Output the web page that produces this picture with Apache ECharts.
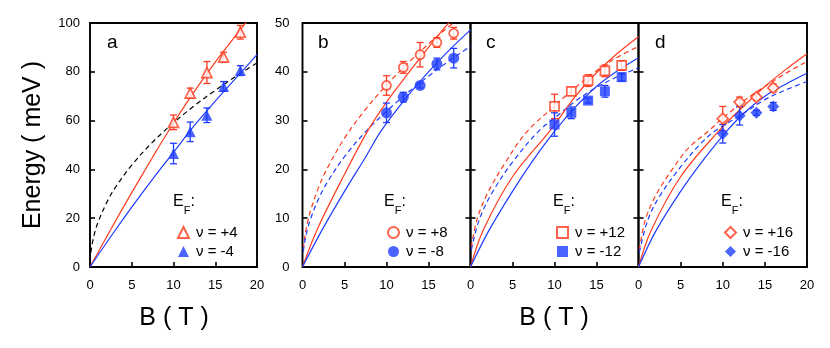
<!DOCTYPE html>
<html>
<head>
<meta charset="utf-8">
<script src="https://cdn.jsdelivr.net/npm/echarts@6/dist/echarts.min.js"></script>
<style>
  html, body { margin: 0; padding: 0; background: #fff; }
  #main { width: 830px; height: 348px; }
</style>
</head>
<body>
<div id="main"></div>
<script>
// field values (T) where points were measured
var bPts = [10, 12, 14, 16, 18];
var bPtsD = [10, 12, 14, 16];

// panel a : nu = +4 / -4
var aPlus = [59.3, 71.3, 79.7, 86, 96.2];
var aPlusErr = [3, 2, 4.5, 2, 2.8];
var aMinus = [46.5, 55.4, 62.2, 74, 80.5];
var aMinusErr = [4.2, 4, 3, 2, 2];
// panel b : nu = +8 / -8
var bPlus = [37.2, 40.9, 43.5, 46, 47.9];
var bPlusErr = [2, 1.2, 2.5, 1, 1.2];
var bMinus = [31.6, 34.8, 37.2, 41.6, 42.8];
var bMinusErr = [2, 1, 0.5, 1.2, 2];
// panel c : nu = +12 / -12
var cPlus = [32.9, 36, 38.2, 40.2, 41.3];
var cPlusErr = [2.5, 0.8, 1.2, 1.2, 1];
var cMinus = [29.2, 31.6, 34.1, 36, 38.9];
var cMinusErr = [2.4, 1.2, 0.5, 1.2, 0.8];
// panel d : nu = +16 / -16
var dPlus = [30.4, 33.8, 34.8, 36.7];
var dPlusErr = [2.5, 1, 0.6, 0.8];
var dMinus = [27.3, 31, 31.6, 32.9];
var dMinusErr = [1.9, 1.9, 0.5, 0.8];

// theory curves, [B, E]
var aRedFit = [[0,0],[2.5,15.5],[5,30.5],[7.5,45],[10,59],[12.5,72],[15,84],[17.5,95],[20,106]];
var aBlueFit = [[0,0],[2.5,12.5],[5,24.5],[7.5,36],[10,47],[12.5,58],[15,68],[17.5,77.5],[20,87]];
var aBlackDash = [[0.1,5.9],[0.3,10.2],[0.6,14.5],[1,18.7],[2,26.4],[3,32.4],[5,41.8],[7.5,51.2],[10,59.1],[12.5,66.1],[15,72.4],[17.5,78.2],[20,83.6]];

var bRedFit = [[0,0],[1.7,7.5],[5,19],[7.8,28],[10,33.8],[12.5,39.5],[15,45],[17.5,50.2],[20,54.5]];
var bBlueFit = [[0,0],[2.3,7.5],[5,15.5],[7.5,22.5],[9.4,28],[12.5,35],[15,40],[17.5,44.5],[20,48.6]];
var bRedDash = [[0.1,3.7],[0.3,6.5],[0.6,9.1],[1,11.8],[2,16.7],[3,20.4],[5,26.4],[7.5,32.3],[10,37.3],[12.5,41.7],[15,45.7],[17.5,49.4],[20,52.8]];
var bBlueDash = [[0.1,3.2],[0.3,5.5],[0.6,7.8],[1,10.1],[2,14.3],[3,17.5],[5,22.6],[7.5,27.7],[10,31.9],[12.5,35.7],[15,39.1],[17.5,42.3],[20,45.2]];

var cRedFit = [[0,0],[1.5,7.5],[5,18.5],[9.5,28],[12.5,35],[15,39.8],[17.5,43.8],[20,47.2]];
var cBlueFit = [[0,0],[2.2,7.5],[5,15.5],[7.5,22],[10,27.8],[12.5,32.8],[15,37],[17.5,40.2],[20,42.9]];
var cRedDash = [[0.1,4],[0.75,9.6],[2,15],[4,21],[6.6,27.5],[10,33],[12.5,36.8],[15,40.2],[17.5,43],[20,45.2]];
var cBlueDash = [[0.1,3.5],[1,9.5],[2.5,15],[5,21.5],[8.2,28],[10,30.5],[12.5,34],[15,36.8],[17.5,39],[20,40.8]];

var dRedFit = [[0,0],[1.5,7.5],[5,18.5],[9.6,28],[12.5,33],[15,37],[17.5,40.5],[20,43.7]];
var dBlueFit = [[0,0],[2.1,7.5],[5,15.5],[7.5,21.5],[10.3,27.5],[12.5,31.5],[15,35],[17.5,37.5],[20,39.7]];
var dRedDash = [[0.1,3.5],[0.8,9.6],[2,14.5],[4,20],[6,24.5],[8.4,28],[10,30.5],[12.5,34],[15,37],[17.5,39.7],[20,42.1]];
var dBlueDash = [[0.1,3],[1.1,9.6],[2.5,14.5],[5,20.5],[7.5,25.5],[9.2,28],[12.5,31.5],[15,34.3],[17.5,36.3],[20,38]];

var RED = '#ff3b1e';
var BLUE = '#1e3cff';
var FONT = 'Liberation Sans, Arial, sans-serif';

var myChart = echarts.init(document.getElementById('main'), null, {width: 830, height: 348});

var grids = [
  {left: 90, top: 23, width: 167, height: 244},
  {left: 302.5, top: 23, width: 168, height: 244},
  {left: 470.5, top: 23, width: 168, height: 244},
  {left: 638.5, top: 23, width: 168.5, height: 244}
].map(function (g) {
  return Object.assign({show: true, borderColor: '#000', borderWidth: 1.9, backgroundColor: 'transparent'}, g);
});

var tick = {inside: true, length: 5, lineStyle: {color: '#000', width: 1.6}};

var xAxis = grids.map(function (g, i) {
  return {
    type: 'value', gridIndex: i, min: 0, max: 20, interval: 5,
    axisLine: {show: false}, axisTick: tick, splitLine: {show: false},
    axisLabel: {
      color: '#000', fontSize: 13, fontFamily: FONT, margin: 12,
      formatter: function (v) { return (v === 20 && (i === 1 || i === 2)) ? '' : String(v); }
    }
  };
});

var yAxis = grids.map(function (g, i) {
  return {
    type: 'value', gridIndex: i, min: 0, max: i === 0 ? 100 : 50, interval: i === 0 ? 20 : 10,
    axisLine: {show: false}, axisTick: tick, splitLine: {show: false},
    axisLabel: {show: i < 2, color: '#000', fontSize: 13, fontFamily: FONT, margin: i === 0 ? 10 : 13}
  };
});
// inward ticks on the shared borders (right side of b and c)
[1, 2].forEach(function (i) {
  yAxis.push({
    type: 'value', gridIndex: i, position: 'right', min: 0, max: 50, interval: 10,
    axisLine: {show: false}, axisTick: tick, splitLine: {show: false}, axisLabel: {show: false}
  });
});

var series = [];

function curve(data, gi, color, dashed) {
  series.push({
    type: 'line', xAxisIndex: gi, yAxisIndex: gi, data: data, smooth: 0.35,
    showSymbol: false, silent: true, clip: true, z: 1,
    lineStyle: {color: color, width: 1.2, type: dashed ? [5, 3.5] : 'solid'}
  });
}

function points(name, xs, ys, errs, gi, color, symbol, size, open) {
  series.push({
    type: 'custom', xAxisIndex: gi, yAxisIndex: gi, z: 2, silent: true,
    data: xs.map(function (x, k) { return [x, ys[k], errs[k]]; }),
    renderItem: function (params, api) {
      var x = api.value(0), y = api.value(1), e = api.value(2);
      var hi = api.coord([x, y + e]);
      var lo = api.coord([x, y - e]);
      var w = 3.5;
      var st = {stroke: color, lineWidth: 1.3};
      return {type: 'group', children: [
        {type: 'line', shape: {x1: hi[0], y1: hi[1], x2: lo[0], y2: lo[1]}, style: st},
        {type: 'line', shape: {x1: hi[0] - w, y1: hi[1], x2: hi[0] + w, y2: hi[1]}, style: st},
        {type: 'line', shape: {x1: lo[0] - w, y1: lo[1], x2: lo[0] + w, y2: lo[1]}, style: st}
      ]};
    }
  });
  series.push({
    name: name, type: 'scatter', xAxisIndex: gi, yAxisIndex: gi, z: 3,
    symbol: symbol, symbolSize: size,
    data: xs.map(function (x, k) { return [x, ys[k]]; }),
    itemStyle: open ? {color: '#fff', borderColor: color, borderWidth: 1.7} : {color: color}
  });
}

curve(aBlackDash, 0, '#000', true);
curve(aRedFit, 0, RED, false);
curve(aBlueFit, 0, BLUE, false);
curve(bRedDash, 1, RED, true);
curve(bBlueDash, 1, BLUE, true);
curve(bRedFit, 1, RED, false);
curve(bBlueFit, 1, BLUE, false);
curve(cRedDash, 2, RED, true);
curve(cBlueDash, 2, BLUE, true);
curve(cRedFit, 2, RED, false);
curve(cBlueFit, 2, BLUE, false);
curve(dRedDash, 3, RED, true);
curve(dBlueDash, 3, BLUE, true);
curve(dRedFit, 3, RED, false);
curve(dBlueFit, 3, BLUE, false);

points('ν = +4', bPts, aPlus, aPlusErr, 0, RED, 'triangle', 10, true);
points('ν = -4', bPts, aMinus, aMinusErr, 0, BLUE, 'triangle', 11, false);
points('ν = +8', bPts, bPlus, bPlusErr, 1, RED, 'circle', 9, true);
points('ν = -8', bPts, bMinus, bMinusErr, 1, BLUE, 'circle', 11, false);
points('ν = +12', bPts, cPlus, cPlusErr, 2, RED, 'rect', 9, true);
points('ν = -12', bPts, cMinus, cMinusErr, 2, BLUE, 'rect', 10, false);
points('ν = +16', bPtsD, dPlus, dPlusErr, 3, RED, 'diamond', 11, true);
points('ν = -16', bPtsD, dMinus, dMinusErr, 3, BLUE, 'diamond', 12, false);

var legendLeft = [172, 382, 551, 719];
var legendNames = [['ν = +4', 'ν = -4'], ['ν = +8', 'ν = -8'], ['ν = +12', 'ν = -12'], ['ν = +16', 'ν = -16']];
var legend = legendLeft.map(function (l, i) {
  return {
    left: l, top: 220, orient: 'vertical', itemWidth: 11, itemHeight: 11, itemGap: 4,
    selectedMode: false, data: legendNames[i],
    textStyle: {color: '#000', fontSize: 15, lineHeight: 15, fontFamily: FONT, padding: [0, 0, 0, 2]}
  };
});

var panelLetters = ['a', 'b', 'c', 'd'];
var letterX = [107, 318, 486, 655];
var efX = [173, 384, 553, 721];

var graphic = [];
panelLetters.forEach(function (t, i) {
  graphic.push({type: 'text', x: letterX[i], y: 43, style: {text: t, fontSize: 19, fontFamily: FONT, fill: '#000', verticalAlign: 'middle'}});
  graphic.push({type: 'text', x: efX[i], y: 202, style: {
    text: '{e|E}{f|F}{e|:}', verticalAlign: 'middle', fontFamily: FONT,
    rich: {
      e: {fontSize: 16, lineHeight: 28, fill: '#000', fontFamily: FONT, verticalAlign: 'middle'},
      f: {fontSize: 11, lineHeight: 11, fill: '#000', fontFamily: FONT, verticalAlign: 'bottom'}
    }
  }});
});
graphic.push({type: 'text', x: 33, y: 145, rotation: Math.PI / 2,
  style: {text: 'Energy ( meV )', fontSize: 25, fontFamily: FONT, fill: '#000', align: 'center', verticalAlign: 'middle'}});
graphic.push({type: 'text', x: 174, y: 318,
  style: {text: 'B ( T )', fontSize: 25, fontFamily: FONT, fill: '#000', align: 'center', verticalAlign: 'middle'}});
graphic.push({type: 'text', x: 554, y: 318,
  style: {text: 'B ( T )', fontSize: 25, fontFamily: FONT, fill: '#000', align: 'center', verticalAlign: 'middle'}});

var option = {
  backgroundColor: '#fff',
  animation: false,
  grid: grids,
  xAxis: xAxis,
  yAxis: yAxis,
  legend: legend,
  graphic: graphic,
  series: series
};
myChart.setOption(option);
</script>
</body>
</html>
